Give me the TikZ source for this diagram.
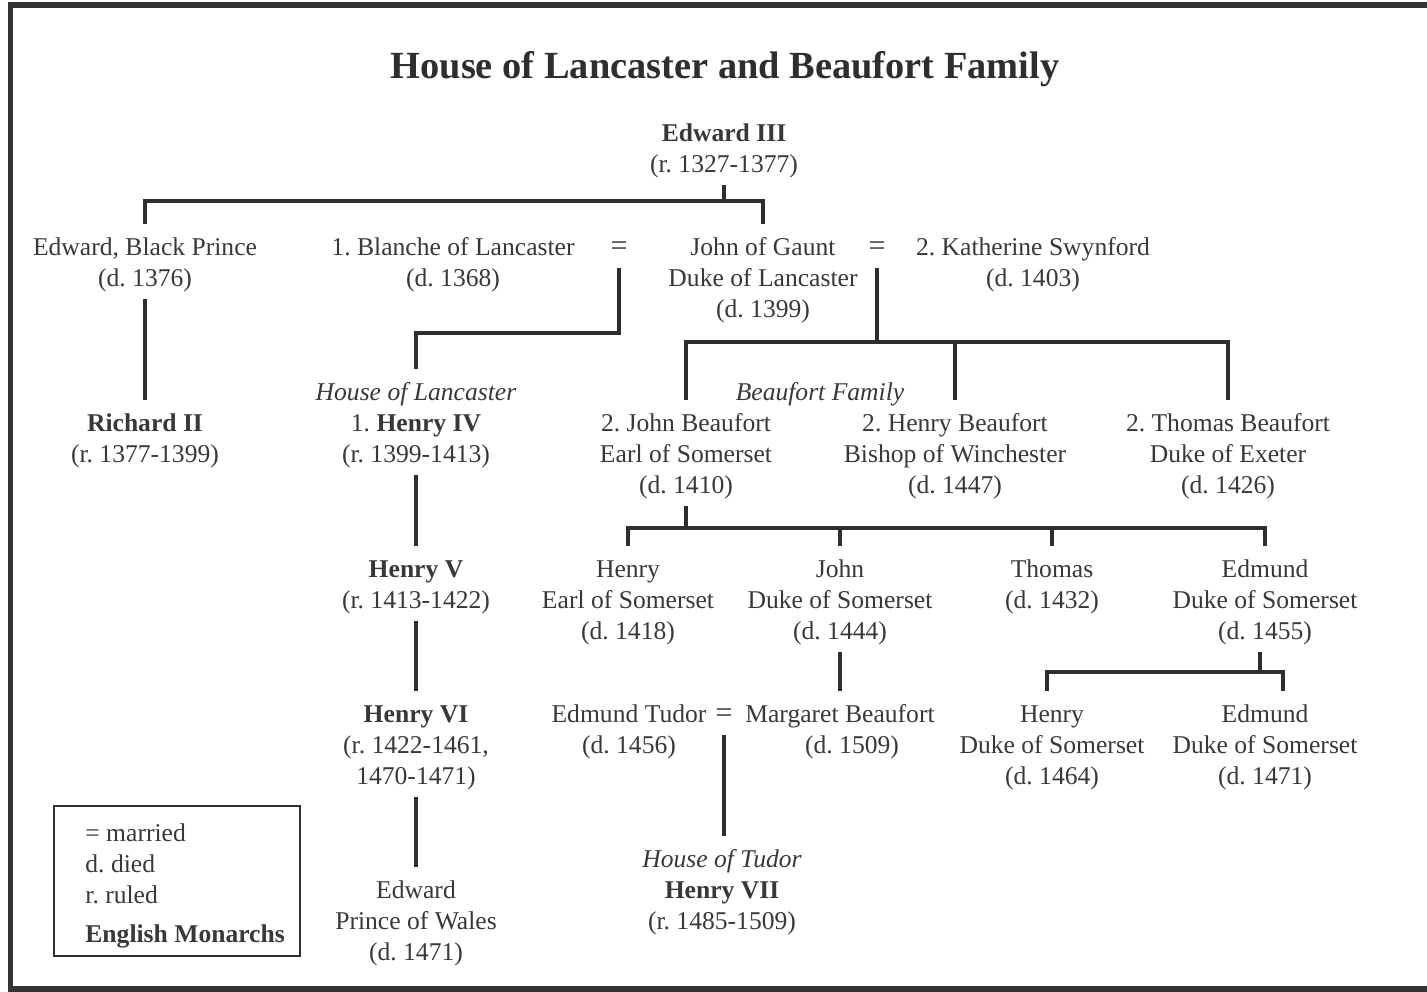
\documentclass[tikz,border=0pt]{standalone}
\usepackage{fontspec}
\setmainfont{Liberation Serif}
% invisible struts that fix the height of the first line and the depth of the last
\newcommand\nodetop{\rule{0pt}{15.5pt}}
\newcommand\nodebot{\rule[-6pt]{0pt}{6pt}}
\begin{document}
\frenchspacing
\begin{tikzpicture}[x=0.5pt, y=-0.5pt,
  person/.style={font=\fontsize{12.8}{15.5}\selectfont, text=black!78,
    align=center, inner sep=0pt, anchor=north,
    execute at end node=\nodebot},
  marriage/.style={person, font=\fontsize{15}{15.5}\selectfont},
  link/.style={draw=black!82, line width=2pt, line join=miter},
  keybox/.style={draw=black!82, line width=1pt, anchor=north west,
    minimum width=123pt, minimum height=75pt, inner sep=0pt},
  heading/.style={font=\bfseries\fontsize{19.2}{23}\selectfont, text=black!82,
    inner sep=0pt, anchor=base}]
\useasboundingbox (0,0) rectangle (1427,991);

% outer frame
\draw[black!80, line width=2.7pt] (10.5,5) rectangle (1460,989);

\node[heading] (title) at (725,78) {House of Lancaster and Beaufort Family};

% generation of Edward III
\node[person] (e3)  at (724,110) {\nodetop\textbf{Edward III}\\(r. 1327-1377)};
\node[person] (bp)  at (145,224) {\nodetop Edward, Black Prince\\(d. 1376)};
\node[person] (bl)  at (453,224) {\nodetop 1. Blanche of Lancaster\\(d. 1368)};
\node[marriage] (eqA) at (619,224) {\nodetop=};
\node[person] (jg)  at (763,224) {\nodetop John of Gaunt\\Duke of Lancaster\\(d. 1399)};
\node[marriage] (eqB) at (877,224) {\nodetop=};
\node[person] (ks)  at (1033,224) {\nodetop 2. Katherine Swynford\\(d. 1403)};

% children of Edward, Blanche and Katherine
\node[person] (r2)  at (145,400) {\nodetop\textbf{Richard II}\\(r. 1377-1399)};
\node[person] (h4)  at (416,369) {\nodetop\textit{House of Lancaster}\\1. \textbf{Henry IV}\\(r. 1399-1413)};
\node[person] (bf)  at (820,369) {\nodetop\textit{Beaufort Family}};
\node[person] (jb)  at (686,400) {\nodetop 2. John Beaufort\\Earl of Somerset\\(d. 1410)};
\node[person] (hb)  at (955,400) {\nodetop 2. Henry Beaufort\\Bishop of Winchester\\(d. 1447)};
\node[person] (tb)  at (1228,400) {\nodetop 2. Thomas Beaufort\\Duke of Exeter\\(d. 1426)};

% next generation
\node[person] (h5)  at (416,546) {\nodetop\textbf{Henry V}\\(r. 1413-1422)};
\node[person] (hs)  at (628,546) {\nodetop Henry\\Earl of Somerset\\(d. 1418)};
\node[person] (js)  at (840,546) {\nodetop John\\Duke of Somerset\\(d. 1444)};
\node[person] (th)  at (1052,546) {\nodetop Thomas\\(d. 1432)};
\node[person] (es)  at (1265,546) {\nodetop Edmund\\Duke of Somerset\\(d. 1455)};

\node[person] (h6)  at (416,691) {\nodetop\textbf{Henry VI}\\(r. 1422-1461,\\1470-1471)};
\node[person] (et)  at (629,691) {\nodetop Edmund Tudor\\(d. 1456)};
\node[marriage] (eqC) at (724,691) {\nodetop=};
\node[person] (mb)  at (840,691) {\nodetop Margaret Beaufort\\\hspace*{12pt}(d. 1509)};
\node[person] (hd)  at (1052,691) {\nodetop Henry\\Duke of Somerset\\(d. 1464)};
\node[person] (ed)  at (1265,691) {\nodetop Edmund\\Duke of Somerset\\(d. 1471)};

\node[person] (h7)  at (722,836) {\nodetop\textit{House of Tudor}\\\textbf{Henry VII}\\(r. 1485-1509)};
\node[person] (pw)  at (416,867) {\nodetop Edward\\Prince of Wales\\(d. 1471)};

% key
\node[keybox] (key) at (53,805) {};
\node[person, align=left, anchor=north west] (keytext) at (85,810)
  {\nodetop= married\\d. died\\r. ruled\\[4pt]\textbf{English Monarchs}};

% levels of the horizontal bars
\coordinate (barE) at (0,201);
\coordinate (barA) at (0,333);
\coordinate (barB) at (0,342);
\coordinate (barC) at (0,528);
\coordinate (barD) at (0,672);

% descent lines
\draw[link] (e3.south) -- (e3.south |- barE) -| (bp.north);
\draw[link] (e3.south) -- (e3.south |- barE) -| (jg.north);
\draw[link] (bp.south) -- (r2.north);

\draw[link] (eqA.south) -- (eqA.south |- barA) -| (h4.north);
\draw[link] (h4.south) -- (h5.north);
\draw[link] (h5.south) -- (h6.north);
\draw[link] (h6.south) -- (pw.north);

\draw[link] (eqB.south) -- (eqB.south |- barB) -| (jb.north);
\draw[link] (eqB.south) -- (eqB.south |- barB) -| (hb.north);
\draw[link] (eqB.south) -- (eqB.south |- barB) -| (tb.north);

\draw[link] (jb.south) -- (jb.south |- barC) -| (hs.north);
\draw[link] (jb.south) -- (jb.south |- barC) -| (js.north);
\draw[link] (jb.south) -- (jb.south |- barC) -| (th.north);
\draw[link] (jb.south) -- (jb.south |- barC) -| (es.north);

\draw[link] (js.south) -- (js.south |- mb.north);

\draw[link] ([xshift=-2.5pt]es.south) -- ([xshift=-2.5pt]es.south |- barD) -| ([xshift=-2.5pt]hd.north);
\draw[link] ([xshift=-2.5pt]es.south) -- ([xshift=-2.5pt]es.south |- barD) -| ([xshift=9pt]ed.north);

\draw[link] (eqC.south) -- (eqC.south |- h7.north);
\end{tikzpicture}
\end{document}
